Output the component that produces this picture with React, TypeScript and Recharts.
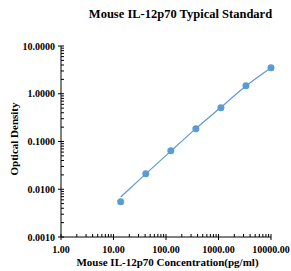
import { LineChart, Line, XAxis, YAxis } from "recharts"

// standard curve: concentration (pg/ml) vs optical density
const concentrations = [13.7, 41.2, 123.5, 370.4, 1111.1, 3333.3, 10000]
const odValues = [0.0055, 0.021, 0.064, 0.185, 0.51, 1.47, 3.5]
const fitValues = [0.0069, 0.021, 0.063, 0.186, 0.52, 1.45, 3.5]

const xTicks = [1, 10, 100, 1000, 10000]
const yTicks = [0.001, 0.01, 0.1, 1, 10]

// log minor tick positions (2..9 in each decade)
const minorSteps = [2, 3, 4, 5, 6, 7, 8, 9]
const xAllTicks = xTicks.flatMap((d) => (d < 10000 ? [d, ...minorSteps.map((s) => d * s)] : [d]))
const yAllTicks = yTicks.flatMap((d) => (d < 10 ? [d, ...minorSteps.map((s) => d * s)] : [d]))

const data = concentrations.map((c, i) => ({ conc: c, od: odValues[i], fit: fitValues[i] }))

const BLUE = "#5B9BD5"
const FONT = '"Liberation Serif", "Times New Roman", serif'
const labelStyle = { fontFamily: FONT, fontSize: 10, fontWeight: 700, fill: "#000" }

function XTick({ x, y, payload }: any) {
  const major = xTicks.includes(payload.value)
  return (
    <g>
      <line x1={x} x2={x} y1={y - 3} y2={major ? y + 3 : y} stroke="#000" strokeWidth={1} />
      {major && (
        <text x={x} y={y + 16} textAnchor="middle" style={labelStyle}>
          {payload.value.toFixed(2)}
        </text>
      )}
    </g>
  )
}

function YTick({ x, y, payload }: any) {
  const major = yTicks.includes(payload.value)
  return (
    <g>
      <line x1={major ? x - 3 : x} x2={x + 3} y1={y} y2={y} stroke="#000" strokeWidth={1} />
      {major && (
        <text x={x - 6} y={y} dy="0.35em" textAnchor="end" style={labelStyle}>
          {payload.value.toFixed(4)}
        </text>
      )}
    </g>
  )
}

export default function App() {
  return (
    <div style={{ position: "fixed", left: 0, top: 0, width: 291, height: 271, background: "#fff" }}>
      <div
        style={{
          position: "absolute",
          left: 0,
          width: 291,
          top: 7,
          paddingLeft: 70,
          boxSizing: "border-box",
          textAlign: "center",
          fontFamily: FONT,
          fontWeight: 700,
          fontSize: 12.5,
        }}
      >
        Mouse IL-12p70 Typical Standard
      </div>
      <LineChart width={291} height={271} data={data} margin={{ top: 46, right: 20, bottom: 0, left: 0 }}>
        <XAxis
          dataKey="conc"
          type="number"
          scale="log"
          domain={[1, 10000]}
          ticks={xAllTicks}
          tick={<XTick />}
          tickLine={false}
          tickSize={0}
          tickMargin={0}
          height={34}
          stroke="#000"
          interval={0}
        />
        <YAxis
          type="number"
          scale="log"
          domain={[0.001, 10]}
          ticks={yAllTicks}
          tick={<YTick />}
          tickLine={false}
          tickSize={0}
          tickMargin={0}
          width={61}
          stroke="#000"
          interval={0}
        />
        <Line
          dataKey="fit"
          type="monotone"
          stroke={BLUE}
          strokeWidth={1.2}
          dot={false}
          isAnimationActive={false}
        />
        <Line
          dataKey="od"
          stroke="none"
          dot={{ r: 3.5, fill: BLUE, stroke: BLUE, strokeWidth: 0 }}
          isAnimationActive={false}
        />
      </LineChart>
      <div
        style={{
          position: "absolute",
          left: 0,
          width: 291,
          top: 256,
          paddingLeft: 44,
          boxSizing: "border-box",
          textAlign: "center",
          fontFamily: FONT,
          fontWeight: 700,
          fontSize: 11,
        }}
      >
        Mouse IL-12p70 Concentration(pg/ml)
      </div>
      <div
        style={{
          position: "absolute",
          left: 14,
          top: 139,
          transform: "translate(-50%, -50%) rotate(-90deg)",
          whiteSpace: "nowrap",
          fontFamily: FONT,
          fontWeight: 700,
          fontSize: 11,
        }}
      >
        Optical Density
      </div>
    </div>
  )
}
